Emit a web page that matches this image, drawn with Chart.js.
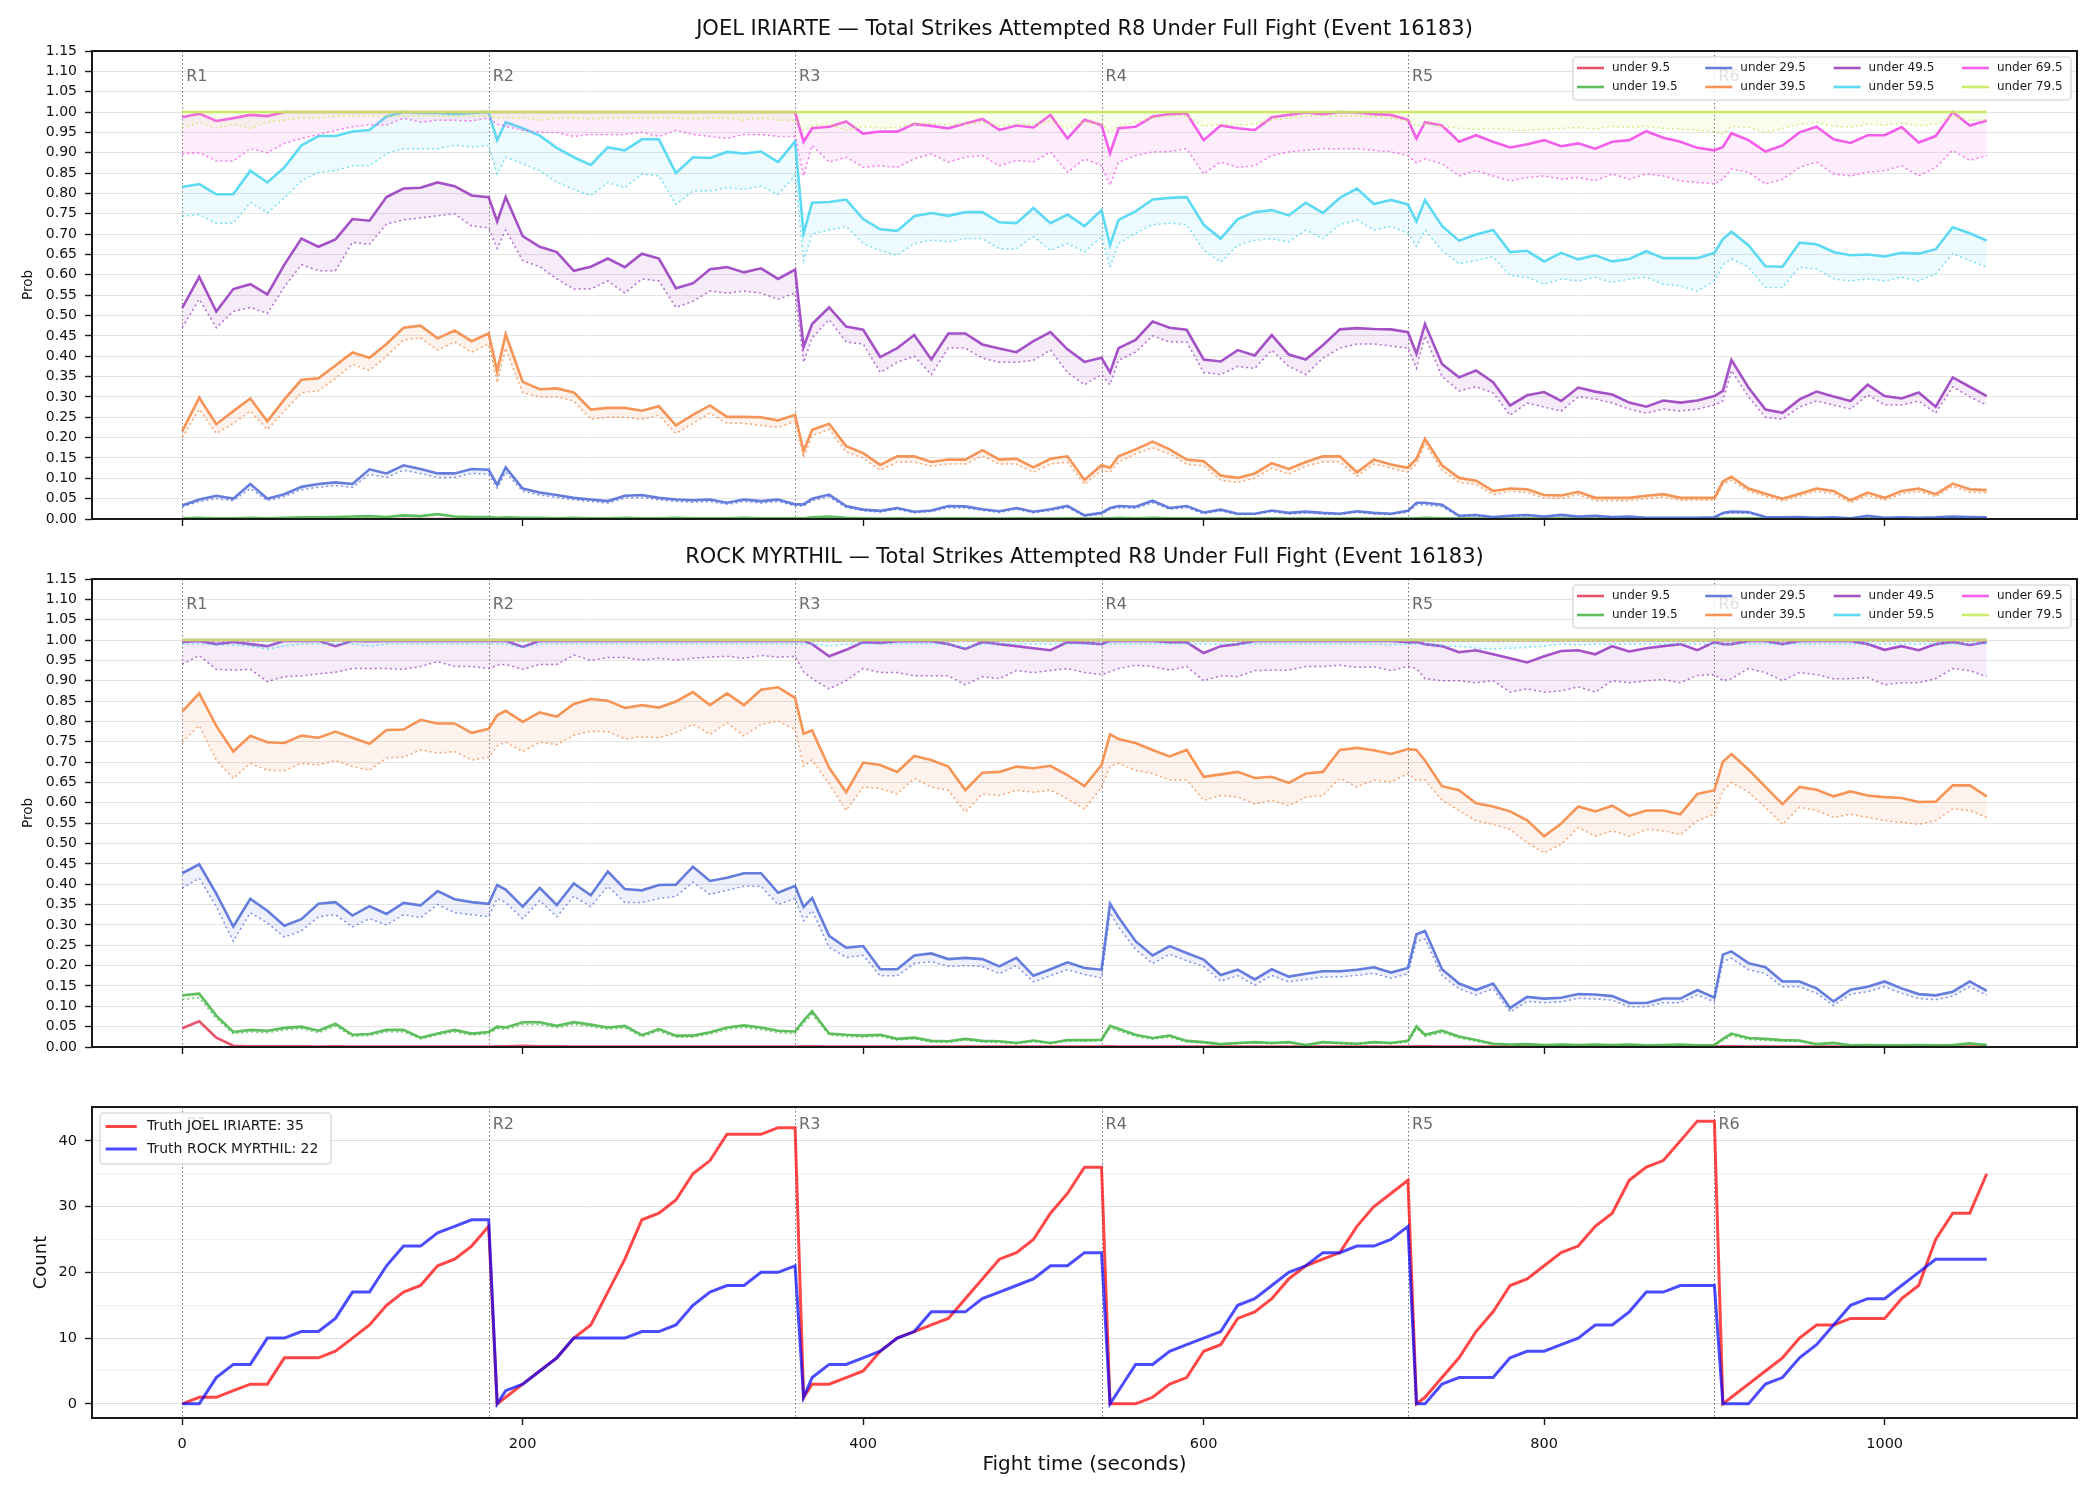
<!DOCTYPE html>
<html>
<head>
<meta charset="utf-8">
<title>Total Strikes Attempted R8 Under</title>
<script src="https://cdn.jsdelivr.net/npm/chart.js@4.4.1/dist/chart.umd.min.js"></script>
<style>
  html, body { margin: 0; padding: 0; background: #ffffff; }
  #page { position: relative; width: 2100px; height: 1500px; background: #ffffff; }
  #page canvas { position: absolute; left: 0; }
</style>
</head>
<body>
<div id="page">
  <canvas id="joelChart" width="2100" height="540" style="top:0px"></canvas>
  <canvas id="rockChart" width="2100" height="540" style="top:540px"></canvas>
  <canvas id="truthChart" width="2100" height="420" style="top:1080px"></canvas>
</div>
<script>
// fight time in seconds: every 10 s, plus the first sample after each round break
const t = [
  0,10,20,30,40,50,60,70,80,90,100,110,120,130,140,150,160,170,180,
  185,190,200,210,220,230,240,250,260,270,280,290,300,310,320,330,340,350,360,
  365,370,380,390,400,410,420,430,440,450,460,470,480,490,500,510,520,530,540,
  545,550,560,570,580,590,600,610,620,630,640,650,660,670,680,690,700,710,720,
  725,730,740,750,760,770,780,790,800,810,820,830,840,850,860,870,880,890,900,
  905,910,920,930,940,950,960,970,980,990,1000,1010,1020,1030,1040,1050,1060
];
const flatT = [0, 1060];

const rounds = [0, 180, 360, 540, 720, 900];
const roundNames = ['R1', 'R2', 'R3', 'R4', 'R5', 'R6'];
const thresholds = ['under 9.5', 'under 19.5', 'under 29.5', 'under 39.5',
                    'under 49.5', 'under 59.5', 'under 69.5', 'under 79.5'];
const probTicks = [0, 0.05, 0.1, 0.15, 0.2, 0.25, 0.3, 0.35, 0.4, 0.45, 0.5, 0.55,
                   0.6, 0.65, 0.7, 0.75, 0.8, 0.85, 0.9, 0.95, 1, 1.05, 1.1, 1.15];
const countTicks = [0, 5, 10, 15, 20, 25, 30, 35, 40];
const xTicks = [0, 200, 400, 600, 800, 1000];

// ---- JOEL IRIARTE ----
const joel95 = [0, 0];
const joel195 = [
  0.002,0.003,0.002,0.002,0.003,0.002,0.003,0.004,0.004,0.005,0.006,0.007,0.005,0.009,0.007,0.012,0.006,0.005,0.005,
  0.003,0.004,0.003,0.003,0.002,0.003,0.002,0.002,0.003,0.002,0.002,0.003,0.002,0.002,0.002,0.003,0.002,0.002,0.002,
  0.002,0.004,0.006,0.003,0.002,0.001,0.002,0.001,0.001,0.002,0.002,0.001,0.001,0.002,0.001,0.001,0.002,0.001,0.001,
  0.002,0.003,0.002,0.003,0.002,0.002,0.001,0.001,0.001,0.001,0.002,0.001,0.001,0.001,0.001,0.001,0.001,0.001,0.001,
  0.002,0.003,0.002,0.001,0.001,0.001,0.001,0.001,0.001,0.001,0.001,0.001,0.001,0.001,0.001,0.001,0.001,0.001,0.001,
  0.001,0.002,0.002,0.001,0.001,0.001,0.001,0.001,0.001,0.001,0.001,0.001,0.001,0.001,0.001,0.001,0.001
];
const joel295 = [
  0.033,0.048,0.057,0.05,0.086,0.05,0.061,0.079,0.086,0.09,0.086,0.122,0.112,0.132,0.123,0.112,0.112,0.123,0.121,
  0.084,0.127,0.075,0.065,0.059,0.052,0.048,0.044,0.057,0.059,0.052,0.048,0.046,0.048,0.04,0.048,0.044,0.048,0.036,
  0.036,0.05,0.06,0.032,0.023,0.02,0.027,0.018,0.021,0.032,0.031,0.024,0.019,0.027,0.018,0.024,0.032,0.009,0.015,
  0.027,0.032,0.03,0.045,0.027,0.032,0.016,0.023,0.013,0.013,0.021,0.015,0.018,0.015,0.013,0.019,0.015,0.013,0.02,
  0.04,0.04,0.035,0.008,0.01,0.005,0.008,0.01,0.006,0.01,0.006,0.008,0.005,0.006,0.003,0.003,0.003,0.003,0.004,
  0.015,0.018,0.017,0.005,0.004,0.005,0.003,0.004,0.002,0.008,0.003,0.004,0.003,0.004,0.006,0.005,0.004
];
const joel295lo = [
  0.03,0.043,0.05,0.045,0.075,0.045,0.055,0.072,0.078,0.082,0.078,0.11,0.102,0.12,0.112,0.102,0.102,0.112,0.11,
  0.076,0.115,0.068,0.059,0.053,0.047,0.043,0.039,0.051,0.053,0.047,0.043,0.041,0.043,0.036,0.043,0.039,0.043,0.032,
  0.032,0.045,0.054,0.028,0.02,0.017,0.024,0.015,0.018,0.028,0.027,0.021,0.016,0.024,0.015,0.021,0.028,0.007,0.012,
  0.024,0.028,0.026,0.04,0.024,0.028,0.013,0.02,0.011,0.011,0.018,0.012,0.015,0.012,0.011,0.016,0.012,0.011,0.017,
  0.035,0.035,0.03,0.006,0.008,0.004,0.006,0.008,0.005,0.008,0.005,0.006,0.004,0.005,0.002,0.002,0.002,0.002,0.003,
  0.012,0.015,0.014,0.004,0.003,0.004,0.002,0.003,0.001,0.006,0.002,0.003,0.002,0.003,0.005,0.004,0.003
];
const joel395 = [
  0.216,0.298,0.233,0.265,0.296,0.24,0.294,0.342,0.346,0.377,0.409,0.396,0.43,0.47,0.475,0.444,0.463,0.437,0.456,
  0.363,0.454,0.337,0.319,0.321,0.311,0.269,0.273,0.273,0.266,0.277,0.23,0.256,0.279,0.251,0.251,0.25,0.242,0.256,
  0.167,0.219,0.234,0.179,0.162,0.133,0.154,0.154,0.14,0.146,0.146,0.169,0.146,0.148,0.127,0.148,0.154,0.096,0.132,
  0.126,0.154,0.171,0.19,0.171,0.146,0.142,0.107,0.101,0.112,0.137,0.123,0.14,0.154,0.154,0.115,0.146,0.134,0.126,
  0.148,0.197,0.132,0.101,0.094,0.069,0.075,0.073,0.059,0.058,0.067,0.052,0.052,0.052,0.057,0.061,0.052,0.052,0.052,
  0.092,0.104,0.075,0.062,0.05,0.062,0.075,0.069,0.046,0.065,0.052,0.069,0.075,0.061,0.087,0.073,0.071
];
const joel395lo = [
  0.2,0.27,0.21,0.235,0.265,0.22,0.265,0.31,0.315,0.345,0.38,0.365,0.4,0.44,0.445,0.415,0.435,0.41,0.43,
  0.335,0.42,0.31,0.3,0.3,0.29,0.245,0.25,0.25,0.245,0.255,0.21,0.235,0.26,0.235,0.235,0.23,0.225,0.24,
  0.15,0.205,0.22,0.165,0.15,0.12,0.14,0.14,0.13,0.135,0.135,0.155,0.135,0.135,0.115,0.135,0.14,0.085,0.12,
  0.115,0.14,0.16,0.175,0.16,0.135,0.13,0.095,0.09,0.1,0.125,0.11,0.13,0.14,0.14,0.105,0.135,0.125,0.115,
  0.135,0.185,0.12,0.09,0.085,0.06,0.068,0.065,0.052,0.05,0.06,0.045,0.045,0.045,0.05,0.054,0.046,0.046,0.046,
  0.085,0.095,0.068,0.056,0.044,0.056,0.068,0.062,0.04,0.058,0.046,0.062,0.068,0.055,0.08,0.066,0.064
];
const joel495 = [
  0.519,0.595,0.51,0.565,0.577,0.552,0.625,0.689,0.669,0.687,0.737,0.733,0.791,0.812,0.814,0.827,0.818,0.795,0.791,
  0.731,0.791,0.695,0.669,0.656,0.61,0.62,0.64,0.619,0.652,0.64,0.567,0.579,0.614,0.619,0.606,0.616,0.59,0.613,
  0.423,0.479,0.52,0.473,0.465,0.398,0.42,0.452,0.392,0.456,0.456,0.429,0.419,0.41,0.437,0.459,0.417,0.386,0.396,
  0.36,0.42,0.44,0.485,0.47,0.465,0.392,0.387,0.415,0.402,0.452,0.404,0.392,0.427,0.466,0.469,0.467,0.466,0.459,
  0.406,0.479,0.381,0.348,0.365,0.336,0.279,0.304,0.312,0.29,0.323,0.313,0.306,0.286,0.276,0.291,0.286,0.291,0.302,
  0.315,0.391,0.323,0.269,0.261,0.294,0.313,0.301,0.29,0.33,0.302,0.296,0.311,0.276,0.348,0.325,0.302
];
const joel495lo = [
  0.47,0.54,0.47,0.51,0.52,0.505,0.57,0.625,0.61,0.61,0.68,0.675,0.725,0.735,0.74,0.745,0.75,0.72,0.715,
  0.665,0.71,0.635,0.62,0.59,0.565,0.565,0.585,0.555,0.59,0.585,0.52,0.535,0.56,0.555,0.56,0.555,0.54,0.555,
  0.385,0.445,0.49,0.435,0.43,0.36,0.385,0.4,0.355,0.42,0.42,0.395,0.385,0.385,0.39,0.415,0.36,0.33,0.355,
  0.33,0.39,0.41,0.45,0.435,0.435,0.36,0.355,0.375,0.37,0.415,0.375,0.355,0.395,0.42,0.43,0.43,0.425,0.42,
  0.37,0.45,0.35,0.315,0.325,0.31,0.255,0.285,0.275,0.265,0.3,0.295,0.285,0.27,0.26,0.27,0.265,0.27,0.28,
  0.29,0.365,0.3,0.25,0.245,0.275,0.29,0.28,0.27,0.305,0.28,0.28,0.29,0.26,0.325,0.3,0.28
];
const joel595 = [
  0.816,0.823,0.798,0.798,0.856,0.827,0.864,0.918,0.941,0.941,0.952,0.956,0.989,1,0.998,0.998,0.995,0.998,1,
  0.931,0.975,0.96,0.942,0.912,0.889,0.87,0.913,0.906,0.933,0.933,0.85,0.889,0.887,0.902,0.898,0.903,0.877,0.928,
  0.702,0.777,0.779,0.785,0.737,0.712,0.708,0.744,0.752,0.745,0.754,0.754,0.729,0.727,0.764,0.727,0.748,0.72,0.759,
  0.673,0.735,0.756,0.785,0.789,0.791,0.723,0.689,0.737,0.754,0.759,0.746,0.777,0.752,0.789,0.812,0.774,0.784,0.773,
  0.731,0.784,0.72,0.684,0.699,0.71,0.656,0.659,0.633,0.654,0.638,0.648,0.633,0.639,0.658,0.641,0.641,0.641,0.654,
  0.688,0.706,0.673,0.621,0.62,0.679,0.675,0.656,0.648,0.65,0.645,0.654,0.652,0.663,0.717,0.702,0.684
];
const joel595lo = [
  0.744,0.748,0.727,0.727,0.778,0.752,0.789,0.831,0.852,0.856,0.868,0.868,0.898,0.91,0.91,0.91,0.918,0.914,0.918,
  0.848,0.889,0.873,0.856,0.827,0.81,0.794,0.827,0.814,0.848,0.843,0.773,0.806,0.806,0.814,0.81,0.818,0.798,0.843,
  0.635,0.7,0.71,0.719,0.677,0.66,0.648,0.677,0.685,0.681,0.689,0.689,0.664,0.664,0.694,0.66,0.677,0.656,0.694,
  0.619,0.677,0.702,0.723,0.727,0.723,0.66,0.631,0.673,0.685,0.689,0.681,0.71,0.689,0.723,0.735,0.71,0.719,0.702,
  0.67,0.71,0.66,0.627,0.635,0.644,0.598,0.594,0.577,0.59,0.585,0.594,0.581,0.59,0.594,0.577,0.573,0.56,0.585,
  0.625,0.639,0.619,0.569,0.569,0.619,0.614,0.59,0.585,0.59,0.585,0.594,0.585,0.602,0.652,0.635,0.619
];
const joel695 = [
  0.987,0.996,0.978,0.985,0.993,0.99,1,1,1,1,1,1,1,1,1,1,1,1,1,
  1,1,1,1,1,1,1,1,1,1,1,1,1,1,1,1,1,1,1,
  0.927,0.96,0.964,0.977,0.947,0.952,0.952,0.971,0.966,0.96,0.972,0.983,0.956,0.967,0.962,0.993,0.935,0.981,0.968,
  0.899,0.96,0.964,0.989,0.995,0.997,0.931,0.967,0.96,0.956,0.987,0.993,0.999,0.995,1,0.999,0.995,0.993,0.981,
  0.935,0.975,0.967,0.927,0.943,0.927,0.913,0.921,0.931,0.916,0.923,0.91,0.927,0.931,0.953,0.937,0.927,0.912,0.906,
  0.914,0.948,0.931,0.903,0.918,0.95,0.964,0.933,0.924,0.943,0.943,0.963,0.925,0.941,1,0.967,0.979
];
const joel695lo = [
  0.897,0.9,0.88,0.88,0.91,0.9,0.923,0.935,0.945,0.955,0.964,0.968,0.968,0.985,0.975,0.98,0.98,0.978,0.985,
  0.97,0.965,0.955,0.95,0.95,0.94,0.945,0.945,0.945,0.95,0.94,0.955,0.945,0.94,0.935,0.945,0.945,0.94,0.94,
  0.843,0.918,0.877,0.889,0.864,0.868,0.864,0.885,0.897,0.877,0.889,0.893,0.868,0.881,0.877,0.902,0.852,0.885,0.868,
  0.82,0.877,0.893,0.902,0.903,0.91,0.848,0.877,0.864,0.868,0.893,0.902,0.906,0.91,0.91,0.91,0.906,0.902,0.893,
  0.875,0.885,0.873,0.843,0.856,0.843,0.831,0.839,0.843,0.835,0.839,0.831,0.848,0.835,0.848,0.843,0.831,0.827,0.823,
  0.835,0.86,0.852,0.823,0.835,0.864,0.877,0.848,0.843,0.852,0.856,0.868,0.843,0.864,0.906,0.881,0.893
];
const joel795 = [1, 1];
const joel795lo = [
  0.96,0.975,0.96,0.97,0.96,0.975,0.98,0.985,0.985,0.99,0.99,0.99,0.99,0.99,0.99,0.99,0.99,0.99,0.99,
  0.985,0.985,0.985,0.98,0.985,0.985,0.983,0.985,0.985,0.985,0.985,0.985,0.983,0.985,0.985,0.98,0.985,0.98,0.98,
  0.955,0.965,0.97,0.955,0.965,0.96,0.962,0.97,0.972,0.968,0.97,0.975,0.965,0.97,0.968,0.978,0.96,0.975,0.97,
  0.95,0.965,0.975,0.985,0.99,0.99,0.965,0.97,0.968,0.97,0.98,0.985,0.99,0.99,0.99,0.99,0.988,0.985,0.978,
  0.965,0.97,0.965,0.96,0.958,0.96,0.956,0.955,0.958,0.96,0.962,0.958,0.965,0.962,0.965,0.96,0.958,0.955,0.952,
  0.945,0.965,0.962,0.95,0.96,0.97,0.975,0.965,0.963,0.97,0.968,0.972,0.966,0.97,0.99,0.98,0.98
];

// ---- ROCK MYRTHIL ----
const rock95 = [
  0.046,0.063,0.023,0.003,0.002,0.002,0.002,0.002,0.001,0.002,0.001,0.001,0.001,0.001,0.001,0.001,0.001,0.001,0.001,
  0.002,0.002,0.003,0.002,0.002,0.001,0.001,0.001,0.001,0.001,0.001,0.001,0.001,0.001,0.001,0.001,0.001,0.001,0.001,
  0.002,0.002,0.001,0.001,0.001,0.001,0.001,0.001,0.001,0.001,0.001,0.001,0.001,0.001,0.001,0.001,0.001,0.001,0.001,
  0.002,0.001,0.001,0.001,0.001,0.001,0.001,0.001,0.001,0.001,0.001,0.001,0.001,0.001,0.001,0.001,0.001,0.001,0.001,
  0.002,0.002,0.001,0.001,0.001,0.001,0.001,0.001,0.001,0.001,0.001,0.001,0.001,0.001,0.001,0.001,0.001,0.001,0.001,
  0.002,0.002,0.001,0.001,0.001,0.001,0.001,0.001,0.001,0.001,0.001,0.001,0.001,0.001,0.001,0.001,0.001
];
const rock195 = [
  0.127,0.131,0.077,0.037,0.042,0.04,0.047,0.05,0.04,0.057,0.03,0.032,0.042,0.042,0.023,0.033,0.042,0.033,0.037,
  0.05,0.048,0.061,0.061,0.052,0.061,0.055,0.048,0.052,0.029,0.044,0.028,0.028,0.036,0.048,0.053,0.048,0.04,0.038,
  0.065,0.088,0.033,0.03,0.028,0.03,0.02,0.023,0.015,0.014,0.02,0.015,0.014,0.01,0.016,0.01,0.017,0.017,0.018,
  0.052,0.045,0.03,0.022,0.028,0.015,0.012,0.007,0.01,0.012,0.01,0.012,0.005,0.012,0.01,0.008,0.012,0.01,0.015,
  0.051,0.03,0.04,0.026,0.017,0.008,0.006,0.007,0.005,0.006,0.005,0.006,0.005,0.006,0.004,0.005,0.006,0.004,0.005,
  0.02,0.033,0.022,0.02,0.017,0.016,0.007,0.01,0.004,0.005,0.004,0.004,0.005,0.004,0.005,0.009,0.005
];
const rock195lo = [
  0.117,0.121,0.07,0.032,0.037,0.035,0.042,0.045,0.035,0.051,0.026,0.028,0.037,0.037,0.02,0.029,0.037,0.029,0.032,
  0.045,0.043,0.055,0.055,0.047,0.055,0.05,0.043,0.047,0.025,0.039,0.024,0.024,0.032,0.043,0.048,0.043,0.035,0.033,
  0.058,0.08,0.029,0.026,0.024,0.026,0.017,0.02,0.012,0.011,0.017,0.012,0.011,0.008,0.013,0.008,0.014,0.014,0.015,
  0.046,0.04,0.026,0.019,0.024,0.012,0.01,0.005,0.008,0.01,0.008,0.01,0.004,0.01,0.008,0.006,0.01,0.008,0.012,
  0.045,0.026,0.035,0.022,0.014,0.006,0.005,0.005,0.004,0.005,0.004,0.005,0.004,0.005,0.003,0.004,0.005,0.003,0.004,
  0.016,0.028,0.018,0.016,0.014,0.013,0.005,0.008,0.003,0.004,0.003,0.003,0.004,0.003,0.004,0.007,0.004
];
const rock295 = [
  0.427,0.449,0.377,0.296,0.364,0.335,0.298,0.314,0.352,0.356,0.323,0.346,0.327,0.354,0.348,0.383,0.363,0.356,0.352,
  0.398,0.387,0.345,0.391,0.349,0.402,0.373,0.431,0.388,0.385,0.398,0.399,0.443,0.408,0.416,0.427,0.427,0.379,0.396,
  0.344,0.366,0.273,0.244,0.248,0.191,0.191,0.225,0.23,0.216,0.219,0.216,0.198,0.219,0.175,0.191,0.208,0.194,0.19,
  0.352,0.319,0.26,0.225,0.248,0.231,0.215,0.177,0.19,0.166,0.191,0.173,0.18,0.186,0.186,0.19,0.196,0.183,0.194,
  0.277,0.285,0.191,0.156,0.14,0.156,0.096,0.123,0.119,0.121,0.13,0.129,0.125,0.108,0.108,0.119,0.119,0.14,0.121,
  0.227,0.235,0.206,0.196,0.161,0.161,0.144,0.112,0.141,0.148,0.161,0.144,0.13,0.127,0.136,0.161,0.138
];
const rock295lo = [
  0.39,0.415,0.345,0.26,0.33,0.305,0.27,0.285,0.32,0.325,0.295,0.315,0.3,0.325,0.318,0.35,0.33,0.325,0.32,
  0.365,0.355,0.315,0.36,0.32,0.37,0.345,0.395,0.355,0.355,0.365,0.37,0.405,0.375,0.385,0.395,0.395,0.35,0.365,
  0.31,0.335,0.245,0.22,0.225,0.175,0.175,0.205,0.21,0.198,0.2,0.198,0.18,0.2,0.16,0.175,0.19,0.178,0.17,
  0.33,0.295,0.24,0.205,0.228,0.212,0.198,0.162,0.175,0.152,0.176,0.16,0.166,0.172,0.172,0.176,0.181,0.169,0.18,
  0.26,0.265,0.176,0.143,0.128,0.143,0.086,0.112,0.109,0.111,0.12,0.118,0.115,0.099,0.099,0.109,0.109,0.128,0.111,
  0.21,0.218,0.19,0.18,0.148,0.148,0.132,0.102,0.13,0.136,0.148,0.132,0.119,0.116,0.125,0.148,0.127
];
const rock395 = [
  0.824,0.869,0.789,0.726,0.765,0.749,0.747,0.765,0.76,0.775,0.76,0.745,0.779,0.78,0.804,0.795,0.795,0.772,0.782,
  0.815,0.826,0.799,0.822,0.812,0.843,0.855,0.851,0.833,0.84,0.834,0.849,0.872,0.84,0.869,0.84,0.878,0.884,0.858,
  0.77,0.778,0.686,0.626,0.699,0.693,0.676,0.715,0.705,0.689,0.631,0.674,0.676,0.689,0.685,0.691,0.668,0.641,0.693,
  0.768,0.757,0.747,0.73,0.714,0.73,0.664,0.67,0.676,0.661,0.664,0.649,0.672,0.676,0.73,0.735,0.729,0.72,0.732,
  0.73,0.704,0.641,0.631,0.599,0.591,0.579,0.557,0.518,0.549,0.591,0.579,0.593,0.568,0.581,0.581,0.572,0.622,0.631,
  0.701,0.72,0.682,0.639,0.597,0.639,0.632,0.616,0.628,0.618,0.614,0.612,0.602,0.603,0.643,0.643,0.616
];
const rock395lo = [
  0.749,0.79,0.705,0.66,0.697,0.68,0.679,0.697,0.693,0.704,0.689,0.68,0.71,0.712,0.73,0.722,0.726,0.705,0.712,
  0.74,0.749,0.726,0.749,0.743,0.766,0.776,0.775,0.757,0.762,0.76,0.772,0.793,0.768,0.797,0.764,0.793,0.801,0.78,
  0.69,0.705,0.647,0.581,0.639,0.635,0.622,0.66,0.639,0.631,0.577,0.622,0.618,0.631,0.626,0.631,0.61,0.585,0.639,
  0.69,0.697,0.68,0.672,0.656,0.656,0.606,0.618,0.614,0.597,0.606,0.593,0.614,0.618,0.66,0.639,0.656,0.651,0.672,
  0.655,0.656,0.606,0.581,0.556,0.547,0.535,0.502,0.477,0.498,0.539,0.518,0.531,0.518,0.535,0.531,0.522,0.556,0.572,
  0.63,0.65,0.626,0.589,0.547,0.589,0.581,0.564,0.572,0.564,0.556,0.552,0.547,0.556,0.585,0.581,0.564
];
const rock495 = [
  0.995,0.998,0.99,0.995,0.99,0.985,0.998,0.998,0.998,0.985,0.998,0.997,0.998,0.998,0.998,0.998,0.998,0.998,0.998,
  0.998,0.998,0.983,0.998,0.998,0.998,0.998,0.998,0.998,0.998,0.998,0.998,0.998,0.998,0.998,0.998,0.998,0.998,0.998,
  0.998,0.99,0.96,0.976,0.995,0.993,0.997,0.997,0.997,0.99,0.978,0.995,0.99,0.985,0.98,0.975,0.995,0.993,0.99,
  0.998,0.998,0.998,0.998,0.995,0.995,0.968,0.985,0.99,0.998,0.998,0.998,0.998,0.998,0.998,0.998,0.998,0.998,0.995,
  0.995,0.99,0.985,0.97,0.975,0.965,0.955,0.945,0.96,0.973,0.975,0.965,0.985,0.972,0.98,0.985,0.99,0.975,0.995,
  0.99,0.99,0.998,0.998,0.99,0.998,0.998,0.998,0.998,0.99,0.976,0.985,0.975,0.99,0.995,0.988,0.995
];
const rock495lo = [
  0.94,0.962,0.928,0.926,0.928,0.898,0.91,0.912,0.917,0.921,0.93,0.93,0.93,0.928,0.935,0.947,0.935,0.935,0.93,
  0.938,0.94,0.928,0.94,0.94,0.963,0.95,0.957,0.957,0.951,0.955,0.951,0.955,0.958,0.96,0.955,0.962,0.958,0.96,
  0.922,0.905,0.88,0.9,0.93,0.92,0.92,0.912,0.912,0.912,0.89,0.91,0.905,0.925,0.92,0.925,0.93,0.92,0.915,
  0.922,0.93,0.938,0.935,0.926,0.935,0.9,0.912,0.91,0.925,0.926,0.926,0.935,0.935,0.938,0.933,0.934,0.925,0.935,
  0.93,0.905,0.9,0.9,0.895,0.9,0.872,0.88,0.872,0.875,0.885,0.872,0.9,0.895,0.9,0.903,0.895,0.913,0.915,
  0.9,0.905,0.93,0.92,0.9,0.92,0.915,0.905,0.905,0.908,0.89,0.895,0.895,0.905,0.93,0.925,0.91
];
const rock595 = [1, 1];
const rock595lo = [
  0.99,0.99,0.988,0.988,0.985,0.978,0.985,0.99,0.99,0.99,0.99,0.985,0.99,0.99,0.99,0.99,0.99,0.99,0.99,
  0.99,0.99,0.982,0.99,0.99,0.99,0.99,0.99,0.99,0.99,0.99,0.99,0.99,0.99,0.99,0.99,0.99,0.99,0.99,
  0.99,0.99,0.985,0.99,0.99,0.99,0.99,0.99,0.99,0.99,0.98,0.99,0.99,0.99,0.99,0.99,0.99,0.99,0.99,
  0.99,0.99,0.99,0.99,0.99,0.99,0.99,0.99,0.99,0.99,0.99,0.99,0.99,0.99,0.99,0.99,0.99,0.988,0.99,
  0.99,0.99,0.985,0.985,0.98,0.978,0.98,0.982,0.985,0.99,0.988,0.99,0.99,0.99,0.99,0.99,0.99,0.99,0.99,
  0.99,0.99,0.99,0.99,0.99,0.99,0.99,0.99,0.99,0.99,0.99,0.99,0.99,0.99,0.99,0.99,0.99
];
const rock695 = [1, 1];
const rock695lo = [0.997, 0.997];
const rock795 = [1, 1];

// ---- truth counts ----
const truthJoel = [
  0,1,1,2,3,3,7,7,7,8,10,12,15,17,18,21,22,24,27,
  0,1,3,5,7,10,12,17,22,28,29,31,35,37,41,41,41,42,42,
  1,3,3,4,5,8,10,11,12,13,16,19,22,23,25,29,32,36,36,
  0,0,0,1,3,4,8,9,13,14,16,19,21,22,23,27,30,32,34,
  0,1,4,7,11,14,18,19,21,23,24,27,29,34,36,37,40,43,43,
  0,1,3,5,7,10,12,12,13,13,13,16,18,25,29,29,35
];
const truthRock = [
  0,0,4,6,6,10,10,11,11,13,17,17,21,24,24,26,27,28,28,
  0,2,3,5,7,10,10,10,10,11,11,12,15,17,18,18,20,20,21,
  1,4,6,6,7,8,10,11,14,14,14,16,17,18,19,21,21,23,23,
  0,2,6,6,8,9,10,11,15,16,18,20,21,23,23,24,24,25,27,
  0,0,3,4,4,4,7,8,8,9,10,12,12,14,17,17,18,18,18,
  0,0,0,3,4,7,9,12,15,16,16,18,20,22,22,22,22
];

const lineColors = ['#e6405e', '#4db84d', '#5470d9', '#f58a45', '#9b3fc1', '#4dd6f2', '#f24ee8', '#c5ea58'];
const FONT = '"DejaVu Sans"';
Chart.defaults.font.family = 'DejaVu Sans';
Chart.defaults.color = '#111';

function rgba(hex, a) {
  const n = parseInt(hex.slice(1), 16);
  return 'rgba(' + (n >> 16) + ',' + ((n >> 8) & 255) + ',' + (n & 255) + ',' + a + ')';
}
function pts(xs, ys) {
  return xs.map((x, i) => ({ x: x, y: ys[i] }));
}

function makeDatasets(series) {
  const ds = [];
  series.forEach((s, i) => {
    ds.push({
      label: thresholds[i],
      data: pts(s.hiT, s.hi),
      borderColor: rgba(lineColors[i], 0.9),
      borderWidth: 2.6,
      pointRadius: 0,
      fill: false
    });
    if (s.lo) {
      ds.push({
        label: thresholds[i] + ' low',
        data: pts(s.loT || t, s.lo),
        borderColor: rgba(lineColors[i], 0.75),
        borderWidth: 1.5,
        borderDash: [2, 3],
        pointRadius: 0,
        backgroundColor: rgba(lineColors[i], 0.1),
        fill: s.toValue !== undefined ? { value: s.toValue } : '-1'
      });
    }
  });
  // later thresholds sit on top, like the original plot order
  ds.forEach((d, k) => { d.order = ds.length - k; });
  return ds;
}

function legendBox(ctx, x, y, w, h) {
  ctx.beginPath();
  ctx.roundRect(x, y, w, h, 3);
  ctx.fillStyle = 'rgba(255,255,255,0.8)';
  ctx.fill();
  ctx.strokeStyle = '#cccccc';
  ctx.lineWidth = 1;
  ctx.stroke();
}

function drawProbLegend(ctx, a) {
  const w = 498, h = 43, x0 = a.right - 6 - w, y0 = a.top + 6;
  legendBox(ctx, x0, y0, w, h);
  ctx.font = '12px ' + FONT;
  ctx.textBaseline = 'middle';
  ctx.textAlign = 'left';
  thresholds.forEach((lab, i) => {
    const col = Math.floor(i / 2), row = i % 2;
    const lx = x0 + 4 + col * 128.3, ly = y0 + 11 + row * 19;
    ctx.strokeStyle = rgba(lineColors[i], 0.9);
    ctx.lineWidth = 2.6;
    ctx.beginPath(); ctx.moveTo(lx, ly); ctx.lineTo(lx + 27, ly); ctx.stroke();
    ctx.fillStyle = '#1a1a1a';
    ctx.fillText(lab, lx + 35, ly);
  });
}

function drawCountLegend(ctx, a) {
  const x0 = a.left + 8, y0 = a.top + 6, w = 231, h = 51;
  legendBox(ctx, x0, y0, w, h);
  const items = [
    { label: 'Truth JOEL IRIARTE: ' + truthJoel[truthJoel.length - 1], color: 'rgba(255,0,0,0.72)' },
    { label: 'Truth ROCK MYRTHIL: ' + truthRock[truthRock.length - 1], color: 'rgba(0,0,255,0.7)' }
  ];
  ctx.font = '14px ' + FONT;
  ctx.textBaseline = 'middle';
  ctx.textAlign = 'left';
  items.forEach((it, r) => {
    const ly = y0 + 13.5 + r * 22.5;
    ctx.strokeStyle = it.color;
    ctx.lineWidth = 3;
    ctx.beginPath(); ctx.moveTo(x0 + 5.6, ly); ctx.lineTo(x0 + 36.8, ly); ctx.stroke();
    ctx.fillStyle = '#1a1a1a';
    ctx.fillText(it.label, x0 + 47, ly);
  });
}

function decor(cfg) {
  return {
    id: 'decor',
    beforeDatasetsDraw(chart) {
      const ctx = chart.ctx, a = chart.chartArea, x = chart.scales.x;
      ctx.save();
      ctx.strokeStyle = 'rgba(70,70,70,0.75)';
      ctx.lineWidth = 1;
      ctx.setLineDash([1.5, 2.5]);
      rounds.forEach(r => {
        const px = Math.round(x.getPixelForValue(r)) + 0.5;
        ctx.beginPath(); ctx.moveTo(px, a.top); ctx.lineTo(px, a.bottom); ctx.stroke();
      });
      ctx.setLineDash([]);
      ctx.fillStyle = '#6a6a6a';
      ctx.font = '16px ' + FONT;
      ctx.textAlign = 'left';
      ctx.textBaseline = 'middle';
      rounds.forEach((r, i) => ctx.fillText(roundNames[i], x.getPixelForValue(r) + 4, a.top + cfg.labelDy));
      ctx.restore();
    },
    afterDraw(chart) {
      const ctx = chart.ctx, a = chart.chartArea, x = chart.scales.x;
      ctx.save();
      cfg.legend(ctx, a);
      ctx.strokeStyle = '#1a1a1a';
      ctx.lineWidth = 2;
      ctx.strokeRect(a.left, a.top, a.right - a.left, a.bottom - a.top);
      ctx.fillStyle = '#111';
      ctx.textAlign = 'center';
      ctx.textBaseline = 'middle';
      if (cfg.title) {
        ctx.font = '21px ' + FONT;
        ctx.fillText(cfg.title, (a.left + a.right) / 2, a.top - 21);
      }
      if (cfg.xTitle) {
        // x tick labels, placed on the library's x scale
        ctx.font = '14.5px ' + FONT;
        xTicks.forEach(v => ctx.fillText(String(v), x.getPixelForValue(v), a.bottom + 26));
        ctx.font = '20px ' + FONT;
        ctx.fillText(cfg.xTitle, (a.left + a.right) / 2, a.bottom + 47);
      }
      ctx.translate(cfg.yTitleX, (a.top + a.bottom) / 2);
      ctx.rotate(-Math.PI / 2);
      ctx.font = cfg.yTitleSize + 'px ' + FONT;
      ctx.fillText(cfg.yTitle, 0, 0);
      ctx.restore();
    }
  };
}

function xScale(height) {
  return {
    type: 'linear', min: -53, max: 1113,
    afterBuildTicks: s => { s.ticks = xTicks.map(v => ({ value: v })); },
    afterFit: s => { s.height = height; },
    ticks: { display: false },
    grid: { display: true, drawOnChartArea: false, tickLength: 7, tickColor: '#1a1a1a', tickWidth: 1.4 },
    border: { display: false }
  };
}

function probChart(id, title, series, padTop, xHeight) {
  return new Chart(document.getElementById(id), {
    type: 'line',
    data: { datasets: makeDatasets(series) },
    options: {
      responsive: false, animation: false, devicePixelRatio: 1,
      layout: { padding: { left: 0, right: 23, top: padTop, bottom: 0 } },
      elements: { line: { tension: 0 } },
      plugins: { legend: { display: false }, tooltip: { enabled: false }, title: { display: false } },
      scales: {
        x: xScale(xHeight),
        y: {
          min: 0, max: 1.15,
          afterBuildTicks: s => { s.ticks = probTicks.map(v => ({ value: v })); },
          afterFit: s => { s.width = 92; },
          ticks: { autoSkip: false, padding: 8, font: { size: 14 }, color: '#111',
                   callback: v => Number(v).toFixed(2) },
          grid: { color: '#e4e4e4', lineWidth: 1, tickLength: 7, tickColor: '#1a1a1a', tickWidth: 1.4 },
          border: { display: false }
        }
      }
    },
    plugins: [decor({ title: title, yTitle: 'Prob', yTitleX: 28, yTitleSize: 13.5, labelDy: 26, legend: drawProbLegend })]
  });
}

const joelSeries = [
  { hiT: flatT, hi: joel95 },
  { hiT: t, hi: joel195 },
  { hiT: t, hi: joel295, lo: joel295lo },
  { hiT: t, hi: joel395, lo: joel395lo },
  { hiT: t, hi: joel495, lo: joel495lo },
  { hiT: t, hi: joel595, lo: joel595lo },
  { hiT: t, hi: joel695, lo: joel695lo },
  { hiT: flatT, hi: joel795, lo: joel795lo, toValue: 1 }
];
const rockSeries = [
  { hiT: t, hi: rock95 },
  { hiT: t, hi: rock195, lo: rock195lo },
  { hiT: t, hi: rock295, lo: rock295lo },
  { hiT: t, hi: rock395, lo: rock395lo },
  { hiT: t, hi: rock495, lo: rock495lo },
  { hiT: flatT, hi: rock595, lo: rock595lo, toValue: 1 },
  { hiT: flatT, hi: rock695, loT: flatT, lo: rock695lo, toValue: 1 },
  { hiT: flatT, hi: rock795 }
];

probChart('joelChart', 'JOEL IRIARTE \u2014 Total Strikes Attempted R8 Under Full Fight (Event 16183)', joelSeries, 51, 21);
probChart('rockChart', 'ROCK MYRTHIL \u2014 Total Strikes Attempted R8 Under Full Fight (Event 16183)', rockSeries, 39, 33);

new Chart(document.getElementById('truthChart'), {
  type: 'line',
  data: {
    datasets: [
      { label: 'Truth JOEL IRIARTE', data: pts(t, truthJoel), borderColor: 'rgba(255,0,0,0.72)',
        borderWidth: 3, pointRadius: 0, fill: false, order: 2 },
      { label: 'Truth ROCK MYRTHIL', data: pts(t, truthRock), borderColor: 'rgba(0,0,255,0.7)',
        borderWidth: 3, pointRadius: 0, fill: false, order: 1 }
    ]
  },
  options: {
    responsive: false, animation: false, devicePixelRatio: 1,
    layout: { padding: { left: 0, right: 23, top: 27, bottom: 0 } },
    elements: { line: { tension: 0 } },
    plugins: { legend: { display: false }, tooltip: { enabled: false }, title: { display: false } },
    scales: {
      x: xScale(82),
      y: {
        min: -2.15, max: 45.15,
        afterBuildTicks: s => { s.ticks = countTicks.map(v => ({ value: v })); },
        afterFit: s => { s.width = 92; },
        ticks: { autoSkip: false, padding: 8, font: { size: 14.5 }, color: '#111',
                 callback: v => (v % 10 === 0 ? String(v) : '') },
        grid: {
          color: c => (c.tick && c.tick.value % 10 === 0 ? '#dedede' : '#efefef'),
          lineWidth: 1, tickLength: 7, tickWidth: 1.4,
          tickColor: c => (c.tick && c.tick.value % 10 === 0 ? '#1a1a1a' : 'rgba(0,0,0,0)')
        },
        border: { display: false }
      }
    }
  },
  plugins: [decor({ xTitle: 'Fight time (seconds)', yTitle: 'Count', yTitleX: 41, yTitleSize: 18, labelDy: 18, legend: drawCountLegend })]
});
</script>
</body>
</html>
